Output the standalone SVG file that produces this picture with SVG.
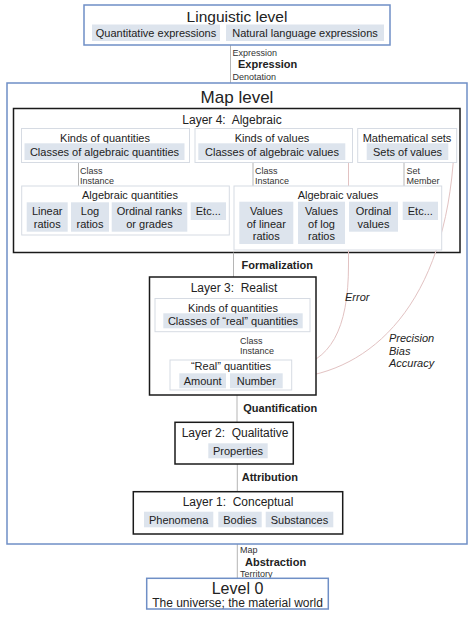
<svg xmlns="http://www.w3.org/2000/svg" width="474" height="618" viewBox="0 0 474 618">
<style>
text{font-family:"Liberation Sans",Arial,sans-serif;fill:#222;}
.t11{font-size:11px;text-anchor:middle;}
.t12{font-size:12px;text-anchor:middle;}
.sm{font-size:9px;fill:#333;}
.bd{font-size:11px;font-weight:bold;}
.it{font-size:11px;font-style:italic;}
.blue{fill:#fff;stroke:#6f8fc6;stroke-width:1.5;}
.layer{fill:#fff;stroke:#1a1a1a;stroke-width:1.5;}
.grp{fill:#fff;stroke:#d6dbe3;stroke-width:1;}
.sub{fill:#dde4ed;}
.ln{stroke:#b5b5b5;stroke-width:1;fill:none;}
.cv{stroke:#e2c2c2;stroke-width:1;fill:none;}
</style>
<rect width="474" height="618" fill="#fff"/>

<g id="connectors">
<line class="ln" x1="230.5" y1="45" x2="230.5" y2="83"/>
<line class="ln" x1="237.3" y1="544" x2="237.3" y2="578"/>
</g>

<g id="map-level">
<rect class="blue" x="7" y="83" width="460" height="461"/>
<text x="237" y="103" style="font-size:17px;text-anchor:middle">Map level</text>
</g>

<g id="linguistic-level">
<rect class="blue" x="84" y="5" width="306" height="40"/>
<text x="237" y="22" style="font-size:15.5px;text-anchor:middle">Linguistic level</text>
<rect class="sub" x="92" y="24.5" width="128" height="16.5"/>
<text class="t11" x="156" y="36.5">Quantitative expressions</text>
<rect class="sub" x="226" y="24.5" width="158" height="16.5"/>
<text class="t11" x="305" y="36.5">Natural language expressions</text>
</g>
<g id="label-expression">
<text class="sm" x="232.5" y="55.5">Expression</text>
<text class="bd" x="238" y="68">Expression</text>
<text class="sm" x="232.5" y="80">Denotation</text>
</g>

<g id="layer4">
<rect class="layer" x="13.5" y="108.5" width="446.5" height="144"/>
<text class="t12" x="232" y="123.5">Layer 4:&#160; Algebraic</text>
</g>

<g id="curves">
<path class="cv" d="M291.7 368 C330 362 348.5 330 348.5 265 L348.5 158"/>
<path class="cv" d="M291.7 378 C370 372 446 305 454 150"/>
</g>

<g id="connectors-inner">
<line class="ln" x1="78.5" y1="163" x2="78.5" y2="186"/>
<line class="ln" x1="253" y1="163" x2="253" y2="186"/>
<line class="ln" x1="404" y1="163" x2="404" y2="186"/>
<line class="ln" x1="233.5" y1="252.5" x2="233.5" y2="277"/>
<line class="ln" x1="236.7" y1="332" x2="236.7" y2="360"/>
<line class="ln" x1="237" y1="395" x2="237" y2="422"/>
<line class="ln" x1="237.3" y1="464" x2="237.3" y2="492"/>
</g>

<g id="kinds-of-quantities-4">
<rect class="grp" x="21.5" y="128.5" width="168" height="34"/>
<text class="t11" x="105" y="141.7">Kinds of quantities</text>
<rect class="sub" x="24.5" y="143.3" width="160" height="16.7"/>
<text class="t11" x="104.5" y="155.5">Classes of algebraic quantities</text>
</g>
<g id="kinds-of-values">
<rect class="grp" x="195" y="128.5" width="157.5" height="34"/>
<text class="t11" x="272" y="141.7">Kinds of values</text>
<rect class="sub" x="198.3" y="143.3" width="147" height="16.7"/>
<text class="t11" x="272" y="155.5">Classes of algebraic values</text>
</g>
<g id="mathematical-sets">
<rect class="grp" x="357.7" y="128.5" width="99" height="34"/>
<text class="t11" x="407" y="141.7">Mathematical sets</text>
<rect class="sub" x="366.7" y="143.3" width="81.6" height="16.7"/>
<text class="t11" x="407.5" y="155.5">Sets of values</text>
</g>

<g id="labels-layer4">
<text class="sm" x="80" y="174">Class</text>
<text class="sm" x="80" y="183.5">Instance</text>
<text class="sm" x="255" y="174">Class</text>
<text class="sm" x="255" y="183.5">Instance</text>
<text class="sm" x="406.5" y="174">Set</text>
<text class="sm" x="406.5" y="183.5">Member</text>
</g>

<g id="algebraic-quantities">
<rect class="grp" x="21.7" y="186" width="207.6" height="49"/>
<text class="t11" x="130" y="199">Algebraic quantities</text>
<rect class="sub" x="26.7" y="202.3" width="41" height="29.4"/>
<text class="t11" x="47.2" y="215">Linear</text>
<text class="t11" x="47.2" y="227.5">ratios</text>
<rect class="sub" x="71" y="202.3" width="38" height="29.4"/>
<text class="t11" x="90" y="215">Log</text>
<text class="t11" x="90" y="227.5">ratios</text>
<rect class="sub" x="111.7" y="202.3" width="75.6" height="29.4"/>
<text class="t11" x="149.5" y="215">Ordinal ranks</text>
<text class="t11" x="149.5" y="227.5">or grades</text>
<rect class="sub" x="190.7" y="202.3" width="35.3" height="17.7"/>
<text class="t11" x="208.3" y="215">Etc...</text>
</g>

<g id="algebraic-values">
<rect class="grp" x="234" y="186" width="207.7" height="64"/>
<text class="t11" x="338" y="199">Algebraic values</text>
<rect class="sub" x="239.3" y="201.7" width="54" height="42.3"/>
<text class="t11" x="266.3" y="215">Values</text>
<text class="t11" x="266.3" y="227.5">of linear</text>
<text class="t11" x="266.3" y="240">ratios</text>
<rect class="sub" x="298" y="201.7" width="47" height="42.3"/>
<text class="t11" x="321.5" y="215">Values</text>
<text class="t11" x="321.5" y="227.5">of log</text>
<text class="t11" x="321.5" y="240">ratios</text>
<rect class="sub" x="349" y="201.7" width="49" height="30"/>
<text class="t11" x="373.5" y="215">Ordinal</text>
<text class="t11" x="373.5" y="227.5">values</text>
<rect class="sub" x="402.7" y="201.7" width="35.3" height="18.3"/>
<text class="t11" x="420.3" y="215">Etc...</text>
</g>

<g id="label-formalization">
<text class="bd" x="241.5" y="268.5">Formalization</text>
</g>

<g id="layer3">
<rect class="layer" x="149.5" y="277" width="166.5" height="118"/>
<text class="t12" x="234" y="291.5">Layer 3:&#160; Realist</text>
</g>
<g id="kinds-of-quantities-3">
<rect class="grp" x="155" y="298.5" width="155" height="33.2"/>
<text class="t11" x="233" y="311.7">Kinds of quantities</text>
<rect class="sub" x="163.3" y="313.3" width="139.4" height="15"/>
<text class="t11" x="233" y="325">Classes of “real” quantities</text>
</g>
<g id="labels-layer3">
<text class="sm" x="240" y="343.5">Class</text>
<text class="sm" x="240" y="353.5">Instance</text>
</g>
<g id="real-quantities">
<rect class="grp" x="170" y="360" width="121.7" height="30"/>
<text class="t11" x="231" y="370">“Real” quantities</text>
<rect class="sub" x="179.3" y="373.3" width="46.7" height="15"/>
<text class="t11" x="202.7" y="385">Amount</text>
<rect class="sub" x="230" y="373.3" width="52.7" height="15"/>
<text class="t11" x="256.3" y="385">Number</text>
</g>

<g id="label-error">
<text class="it" x="345" y="300.5">Error</text>
</g>
<g id="label-precision">
<text class="it" x="389" y="341.5">Precision</text>
<text class="it" x="389" y="354.5">Bias</text>
<text class="it" x="389" y="367">Accuracy</text>
</g>

<g id="label-quantification">
<text class="bd" x="243.3" y="412.3">Quantification</text>
</g>

<g id="layer2">
<rect class="layer" x="175" y="422.3" width="118.3" height="41.7"/>
<text class="t12" x="235" y="437">Layer 2:&#160; Qualitative</text>
<rect class="sub" x="208.3" y="443.3" width="59.4" height="15"/>
<text class="t11" x="238" y="455">Properties</text>
</g>

<g id="label-attribution">
<text class="bd" x="241.7" y="481.3">Attribution</text>
</g>

<g id="layer1">
<rect class="layer" x="133.3" y="491.7" width="209.4" height="42.3"/>
<text class="t12" x="238" y="506">Layer 1:&#160; Conceptual</text>
<rect class="sub" x="144" y="511.7" width="69.3" height="15.6"/>
<text class="t11" x="178.6" y="523.5">Phenomena</text>
<rect class="sub" x="218.3" y="511.7" width="43.4" height="15.6"/>
<text class="t11" x="240" y="523.5">Bodies</text>
<rect class="sub" x="265.7" y="511.7" width="67.6" height="15.6"/>
<text class="t11" x="299.5" y="523.5">Substances</text>
</g>

<g id="label-abstraction">
<text class="sm" x="240" y="553">Map</text>
<text class="bd" x="245" y="565.5">Abstraction</text>
<text class="sm" x="240" y="577">Territory</text>
</g>

<g id="level0">
<rect class="blue" x="146.7" y="578.3" width="181.6" height="30.7"/>
<text x="237.5" y="594" style="font-size:16px;text-anchor:middle">Level 0</text>
<text class="t12" x="237.5" y="606.5">The universe; the material world</text>
</g>
</svg>
